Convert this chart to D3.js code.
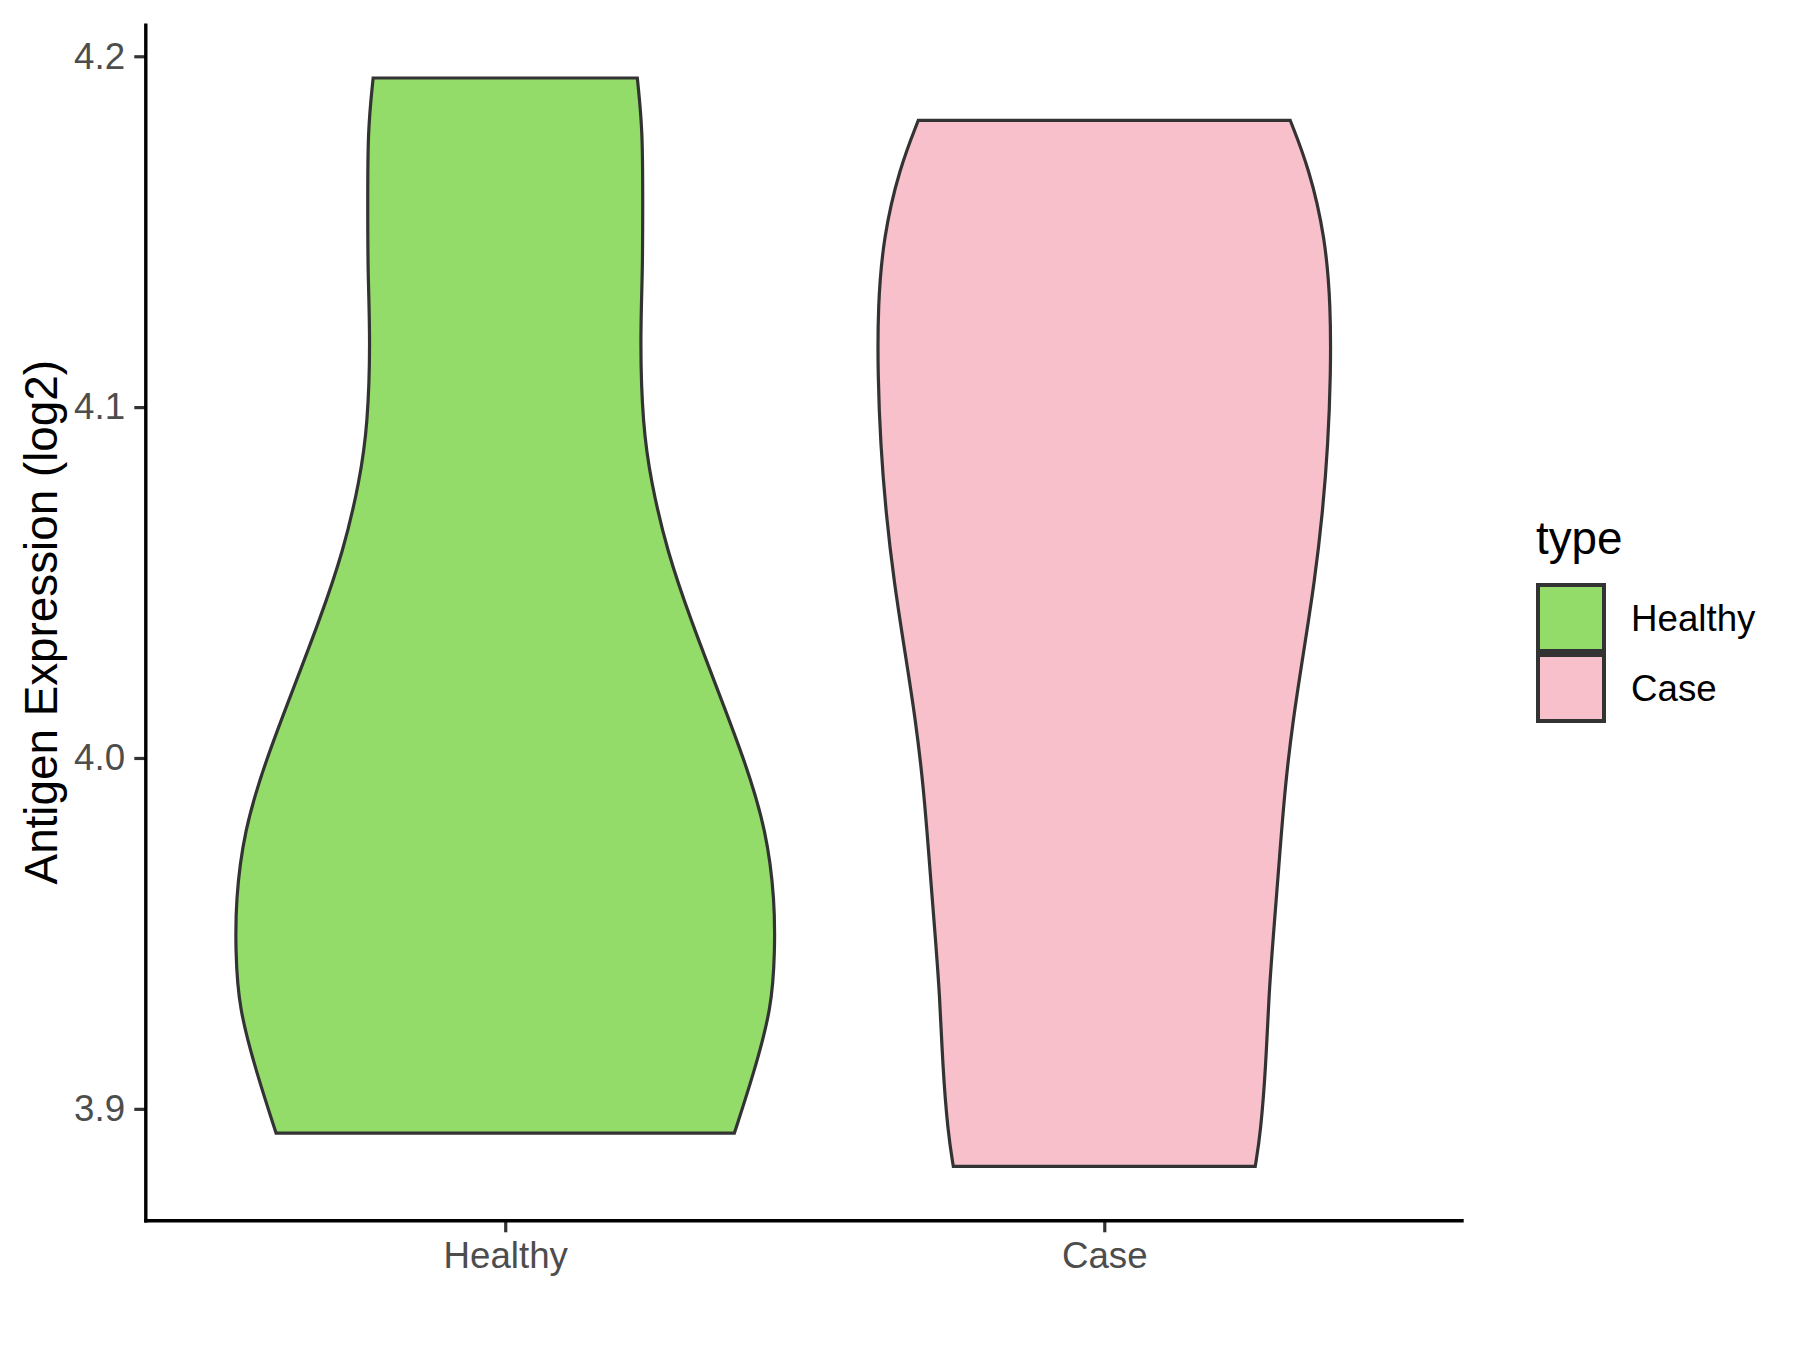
<!DOCTYPE html>
<html>
<head>
<meta charset="utf-8">
<script src="https://cdn.jsdelivr.net/npm/d3@7"></script>
<style>
  body { margin: 0; background: #fff; }
  svg { display: block; font-family: "Liberation Sans", Arial, sans-serif; }
</style>
</head>
<body>
<svg></svg>
<script>
// categories and tick labels
const categories = ['Healthy', 'Case'];
const colors = ['#94DC6A', '#F7C0CB'];
const yTicks = [3.9, 4.0, 4.1, 4.2];

// violin outlines: value, relative density (1 = widest)
const healthyValues  = [4.1938, 4.1788, 4.1588, 4.1389, 4.1189, 4.0949, 4.0790, 4.0590, 4.0390, 4.0190, 3.9990, 3.9790, 3.9591, 3.9451, 3.9291, 3.9096, 3.8931];
const healthyDensity = [0.49,   0.51,   0.51,   0.51,   0.50,   0.51,   0.54,   0.60,   0.69,   0.79,   0.89,   0.97,   1.00,   1.00,   0.99,   0.92,   0.85];
const caseValues  = [4.1817, 4.1680, 4.1483, 4.1287, 4.1091, 4.0894, 4.0698, 4.0502, 4.0305, 4.0109, 3.9913, 3.9716, 3.9520, 3.9323, 3.9127, 3.8931, 3.8836];
const caseDensity = [0.69,   0.76,   0.82,   0.84,   0.84,   0.83,   0.81,   0.78,   0.74,   0.70,   0.67,   0.65,   0.63,   0.61,   0.60,   0.58,   0.56];

const width = 1800;
const height = 1350;
const margin = {top: 23.6, right: 336.3, bottom: 129.2, left: 145.8};
const plotW = width - margin.left - margin.right;
const plotH = height - margin.top - margin.bottom;

const svg = d3.select('svg').attr('width', width).attr('height', height);

// y limits: data range plus 5% expansion like ggplot
const allVals = healthyValues.concat(caseValues);
const yMin = d3.min(allVals), yMax = d3.max(allVals);
const pad = (yMax - yMin) * 0.05;

const yScale = d3.scaleLinear()
  .domain([yMin - pad, yMax + pad])
  .range([margin.top + plotH, margin.top]);

const xScale = d3.scalePoint()
  .domain(categories)
  .range([margin.left, margin.left + plotW])
  .padding(0.6);

const step = xScale.step();
const wScale = d3.scaleLinear().domain([0, 1]).range([0, 0.45 * step]);

const groups = [
  {cat: 'Healthy', vals: healthyValues, dens: healthyDensity},
  {cat: 'Case', vals: caseValues, dens: caseDensity}
];

groups.forEach((g, i) => {
  const pts = g.vals.map((v, j) => ({v: v, d: g.dens[j]}));
  const cx = xScale(g.cat);
  const area = d3.area()
    .curve(d3.curveBasis)
    .y(d => yScale(d.v))
    .x0(d => cx - wScale(d.d))
    .x1(d => cx + wScale(d.d));
  svg.append('path')
    .datum(pts)
    .attr('d', area)
    .attr('fill', colors[i])
    .attr('stroke', '#333333')
    .attr('stroke-width', 3.2)
    .attr('stroke-linejoin', 'miter');
});

// axes
const yAxis = svg.append('g')
  .attr('transform', 'translate(' + margin.left + ',0)')
  .call(d3.axisLeft(yScale).tickValues(yTicks).tickFormat(d3.format('.1f')).tickSize(11.5).tickPadding(9.2));

const xAxis = svg.append('g')
  .attr('transform', 'translate(0,' + (margin.top + plotH) + ')')
  .call(d3.axisBottom(xScale).tickSize(11.5).tickPadding(9.2));

[yAxis, xAxis].forEach(ax => {
  ax.select('.domain').remove();
  ax.selectAll('.tick line').attr('stroke', '#333333').attr('stroke-width', 3.2);
  ax.selectAll('.tick text')
    .attr('fill', '#4D4D4D')
    .style('font-size', '36.7px')
    .style('font-family', '"Liberation Sans", Arial, sans-serif');
});

// axis lines
svg.append('line')
  .attr('x1', margin.left).attr('x2', margin.left)
  .attr('y1', margin.top).attr('y2', margin.top + plotH + 1.7)
  .attr('stroke', '#000').attr('stroke-width', 3.4);
svg.append('line')
  .attr('x1', margin.left - 1.7).attr('x2', margin.left + plotW)
  .attr('y1', margin.top + plotH).attr('y2', margin.top + plotH)
  .attr('stroke', '#000').attr('stroke-width', 3.4);

// y title
svg.append('text')
  .attr('transform', 'translate(57,' + (margin.top + plotH / 2) + ') rotate(-90)')
  .attr('text-anchor', 'middle')
  .style('font-size', '45.8px')
  .attr('fill', '#000')
  .text('Antigen Expression (log2)');

// legend
const legend = svg.append('g');
legend.append('text')
  .attr('x', 1536).attr('y', 554)
  .style('font-size', '45.8px')
  .text('type');

categories.forEach((c, i) => {
  const y0 = 585 + i * 70;
  legend.append('rect')
    .attr('x', 1538).attr('y', y0)
    .attr('width', 66).attr('height', 66)
    .attr('fill', colors[i])
    .attr('stroke', '#333333')
    .attr('stroke-width', 4);
  legend.append('text')
    .attr('x', 1631).attr('y', y0 + 33)
    .attr('dy', '0.35em')
    .style('font-size', '36.7px')
    .attr('fill', '#000')
    .text(c);
});
</script>
</body>
</html>
